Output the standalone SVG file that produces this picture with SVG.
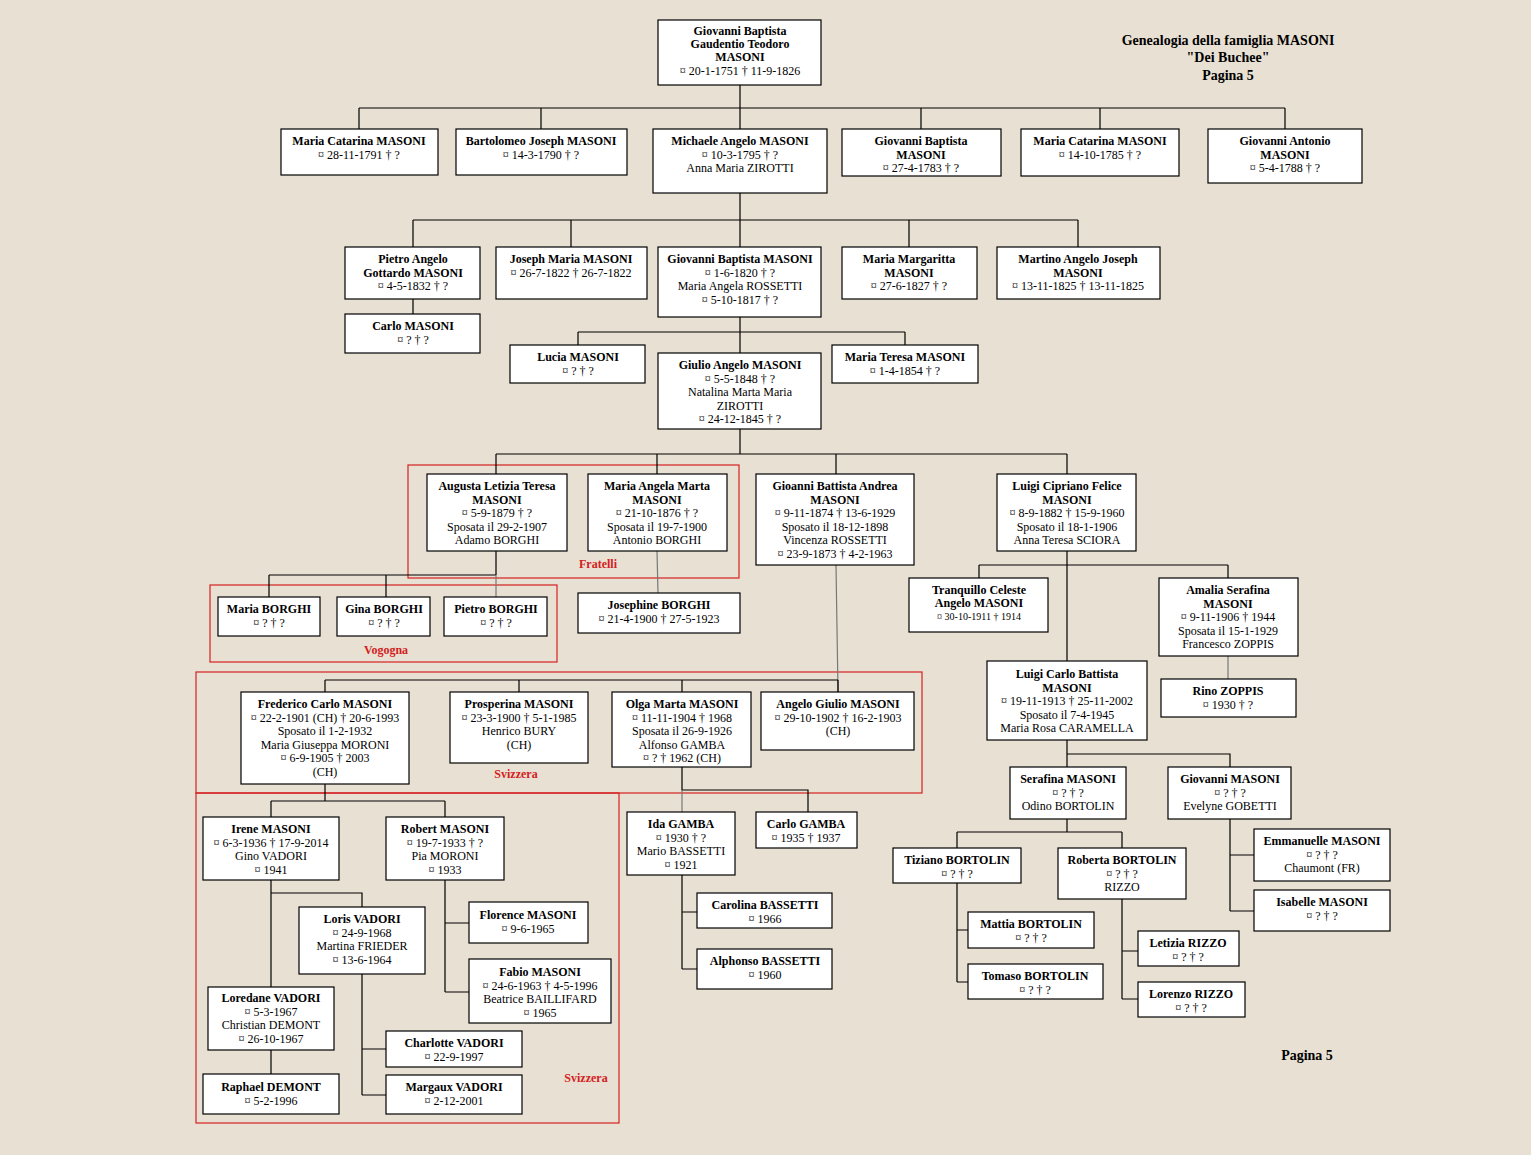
<svg xmlns="http://www.w3.org/2000/svg" width="1531" height="1155" viewBox="0 0 1531 1155">
<style>
rect.n{fill:#fff;stroke:#000;stroke-width:1.2}
text{font-family:"Liberation Serif","Times New Roman",serif;font-size:12px;text-anchor:middle;fill:#000}
.b{font-weight:bold}
.s{font-size:10px}
.c path{fill:none;stroke:#000;stroke-width:1.2}
.c path.g{stroke:#777}
.r{fill:none;stroke:#d42020;stroke-width:1.2}
.rl{fill:#d42020;font-weight:bold}
.t{font-size:14px;font-weight:bold}
</style>
<rect width="1531" height="1155" fill="#e8e0d3"/>
<g id="title">
<text class="t" x="1228" y="45">Genealogia della famiglia MASONI</text>
<text class="t" x="1228" y="62">"Dei Buchee"</text>
<text class="t" x="1228" y="80">Pagina 5</text>
<text class="t" x="1307" y="1060">Pagina 5</text>
</g>
<g id="groups">
<rect class="r" x="408" y="465" width="331" height="113"/><text class="rl" x="598" y="568">Fratelli</text>
<rect class="r" x="210" y="585" width="347" height="77"/><text class="rl" x="386" y="654">Vogogna</text>
<rect class="r" x="196" y="672" width="726" height="121"/><text class="rl" x="516" y="778">Svizzera</text>
<rect class="r" x="196" y="793" width="423" height="330"/><text class="rl" x="586" y="1082">Svizzera</text>
</g>
<g class="c" id="connectors">
<path d="M740 85V108M359 108H1285M359 108V129M541 108V129M740 108V129M921 108V129M1100 108V129M1285 108V129"/>
<path d="M740 193V220M413 220H1078M413 220V247M571 220V247M740 220V247M909 220V247M1078 220V247M413 299V314"/>
<path d="M740 317V353M578 332H905M578 332V345M905 332V345"/>
<path d="M740 429V454M496 454H1067M496 454V474M657 454V474M836 454V474M1067 454V474"/>
<path d="M496 551V575M269 575H496M269 575V597M386 575V597"/>
<path class="g" d="M496 575V597M657 551L658 593M836 565L838 692"/>
<path d="M1067 551V661M979 565H1228M979 565V578M1228 565V578"/>
<path class="g" d="M1228 656V679"/>
<path d="M325 680H838M325 680V692M519 680V692M682 680V692M838 680V692"/>
<path d="M325 784V801M271 801H445M271 801V817M445 801V817"/>
<path d="M271 880V987M271 893H362V907M271 1050V1074M362 974V1095M362 1049H386M362 1095H386"/>
<path d="M445 880V992M445 923H469M445 992H469"/>
<path d="M682 767V790H808V812"/>
<path class="g" d="M682 790V812"/>
<path d="M682 875V969M682 912H697M682 969H697"/>
<path d="M1067 740V767M1067 754H1230V767M1067 819V832M957 832H1122M957 832V848M1122 832V848"/>
<path d="M957 883V982M957 930H968M957 982H968M1122 899V999M1122 951H1138M1122 999H1138"/>
<path d="M1230 819V911M1230 855H1254M1230 911H1254"/>
</g>
<g id="n1"><rect class="n" x="658" y="20" width="163" height="65"/><text x="740" y="35"><tspan class="b" x="740">Giovanni Baptista</tspan><tspan class="b" x="740" dy="13">Gaudentio Teodoro</tspan><tspan class="b" x="740" dy="13">MASONI</tspan><tspan x="740" dy="14">¤  20-1-1751  † 11-9-1826</tspan></text></g>
<g id="n2"><rect class="n" x="281" y="129" width="157" height="46"/><text x="359" y="145"><tspan class="b" x="359">Maria Catarina MASONI</tspan><tspan x="359" dy="13.5">¤  28-11-1791  † ?</tspan></text></g>
<g id="n3"><rect class="n" x="456" y="129" width="171" height="46"/><text x="541" y="145"><tspan class="b" x="541">Bartolomeo Joseph MASONI</tspan><tspan x="541" dy="13.5">¤   14-3-1790  † ?</tspan></text></g>
<g id="n4"><rect class="n" x="653" y="129" width="174" height="64"/><text x="740" y="145"><tspan class="b" x="740">Michaele Angelo MASONI</tspan><tspan x="740" dy="13.5">¤ 10-3-1795  † ?</tspan><tspan x="740" dy="13.5">Anna Maria ZIROTTI</tspan></text></g>
<g id="n5"><rect class="n" x="842" y="129" width="159" height="47"/><text x="921" y="145"><tspan class="b" x="921">Giovanni Baptista</tspan><tspan class="b" x="921" dy="13.5">MASONI</tspan><tspan x="921" dy="13.5">¤   27-4-1783   † ?</tspan></text></g>
<g id="n6"><rect class="n" x="1021" y="129" width="158" height="47"/><text x="1100" y="145"><tspan class="b" x="1100">Maria Catarina MASONI</tspan><tspan x="1100" dy="13.5">¤ 14-10-1785 † ?</tspan></text></g>
<g id="n7"><rect class="n" x="1208" y="129" width="154" height="54"/><text x="1285" y="145"><tspan class="b" x="1285">Giovanni Antonio</tspan><tspan class="b" x="1285" dy="13.5">MASONI</tspan><tspan x="1285" dy="13.5">¤  5-4-1788  † ?</tspan></text></g>
<g id="n8"><rect class="n" x="345" y="247" width="135" height="52"/><text x="413" y="263"><tspan class="b" x="413">Pietro Angelo</tspan><tspan class="b" x="413" dy="13.5">Gottardo MASONI</tspan><tspan x="413" dy="13.5">¤ 4-5-1832  † ?</tspan></text></g>
<g id="n9"><rect class="n" x="496" y="247" width="151" height="52"/><text x="571" y="263"><tspan class="b" x="571">Joseph Maria MASONI</tspan><tspan x="571" dy="13.5">¤ 26-7-1822  † 26-7-1822</tspan></text></g>
<g id="n10"><rect class="n" x="658" y="247" width="163" height="70"/><text x="740" y="263"><tspan class="b" x="740">Giovanni Baptista MASONI</tspan><tspan x="740" dy="13.5">¤ 1-6-1820  † ?</tspan><tspan x="740" dy="13.5">Maria Angela ROSSETTI</tspan><tspan x="740" dy="13.5">¤ 5-10-1817  † ?</tspan></text></g>
<g id="n11"><rect class="n" x="842" y="247" width="135" height="52"/><text x="909" y="263"><tspan class="b" x="909">Maria Margaritta</tspan><tspan class="b" x="909" dy="13.5">MASONI</tspan><tspan x="909" dy="13.5">¤ 27-6-1827  † ?</tspan></text></g>
<g id="n12"><rect class="n" x="997" y="247" width="163" height="52"/><text x="1078" y="263"><tspan class="b" x="1078">Martino Angelo Joseph</tspan><tspan class="b" x="1078" dy="13.5">MASONI</tspan><tspan x="1078" dy="13.5">¤ 13-11-1825  † 13-11-1825</tspan></text></g>
<g id="n13"><rect class="n" x="345" y="314" width="135" height="39"/><text x="413" y="330"><tspan class="b" x="413">Carlo MASONI</tspan><tspan x="413" dy="13.5">¤ ? † ?</tspan></text></g>
<g id="n14"><rect class="n" x="510" y="345" width="135" height="38"/><text x="578" y="361"><tspan class="b" x="578">Lucia  MASONI</tspan><tspan x="578" dy="13.5">¤ ? † ?</tspan></text></g>
<g id="n15"><rect class="n" x="658" y="353" width="163" height="76"/><text x="740" y="369"><tspan class="b" x="740">Giulio Angelo MASONI</tspan><tspan x="740" dy="13.5">¤ 5-5-1848  † ?</tspan><tspan x="740" dy="13.5">Natalina Marta Maria</tspan><tspan x="740" dy="13.5">ZIROTTI</tspan><tspan x="740" dy="13.5">¤ 24-12-1845  † ?</tspan></text></g>
<g id="n16"><rect class="n" x="832" y="345" width="146" height="38"/><text x="905" y="361"><tspan class="b" x="905">Maria Teresa   MASONI</tspan><tspan x="905" dy="13.5">¤ 1-4-1854 † ?</tspan></text></g>
<g id="n17"><rect class="n" x="427" y="474" width="140" height="77"/><text x="497" y="490"><tspan class="b" x="497">Augusta Letizia Teresa</tspan><tspan class="b" x="497" dy="13.5">MASONI</tspan><tspan x="497" dy="13.5">¤ 5-9-1879  † ?</tspan><tspan x="497" dy="13.5">Sposata il 29-2-1907</tspan><tspan x="497" dy="13.5">Adamo BORGHI</tspan></text></g>
<g id="n18"><rect class="n" x="588" y="474" width="139" height="77"/><text x="657" y="490"><tspan class="b" x="657">Maria Angela Marta</tspan><tspan class="b" x="657" dy="13.5">MASONI</tspan><tspan x="657" dy="13.5">¤ 21-10-1876  † ?</tspan><tspan x="657" dy="13.5">Sposata il 19-7-1900</tspan><tspan x="657" dy="13.5">Antonio  BORGHI</tspan></text></g>
<g id="n19"><rect class="n" x="756" y="474" width="158" height="91"/><text x="835" y="490"><tspan class="b" x="835">Gioanni Battista Andrea</tspan><tspan class="b" x="835" dy="13.5">MASONI</tspan><tspan x="835" dy="13.5">¤ 9-11-1874  † 13-6-1929</tspan><tspan x="835" dy="13.5">Sposato il 18-12-1898</tspan><tspan x="835" dy="13.5">Vincenza ROSSETTI</tspan><tspan x="835" dy="13.5">¤ 23-9-1873  † 4-2-1963</tspan></text></g>
<g id="n20"><rect class="n" x="997" y="474" width="139" height="77"/><text x="1067" y="490"><tspan class="b" x="1067">Luigi Cipriano Felice</tspan><tspan class="b" x="1067" dy="13.5">MASONI</tspan><tspan x="1067" dy="13.5">¤ 8-9-1882  † 15-9-1960</tspan><tspan x="1067" dy="13.5">Sposato il 18-1-1906</tspan><tspan x="1067" dy="13.5">Anna Teresa SCIORA</tspan></text></g>
<g id="n21"><rect class="n" x="218" y="597" width="102" height="39"/><text x="269" y="613"><tspan class="b" x="269">Maria BORGHI</tspan><tspan x="269" dy="13.5">¤ ? † ?</tspan></text></g>
<g id="n22"><rect class="n" x="337" y="597" width="93" height="39"/><text x="384" y="613"><tspan class="b" x="384">Gina BORGHI</tspan><tspan x="384" dy="13.5">¤ ? † ?</tspan></text></g>
<g id="n23"><rect class="n" x="444" y="597" width="103" height="39"/><text x="496" y="613"><tspan class="b" x="496">Pietro BORGHI</tspan><tspan x="496" dy="13.5">¤ ? † ?</tspan></text></g>
<g id="n24"><rect class="n" x="578" y="593" width="162" height="40"/><text x="659" y="609"><tspan class="b" x="659">Josephine BORGHI</tspan><tspan x="659" dy="13.5">¤ 21-4-1900 † 27-5-1923</tspan></text></g>
<g id="n25"><rect class="n" x="909" y="578" width="139" height="54"/><text x="979" y="594"><tspan class="b" x="979">Tranquillo Celeste</tspan><tspan class="b" x="979" dy="13">Angelo MASONI</tspan><tspan class="s" x="979" dy="13">¤ 30-10-1911  † 1914</tspan></text></g>
<g id="n26"><rect class="n" x="1159" y="578" width="139" height="78"/><text x="1228" y="594"><tspan class="b" x="1228">Amalia Serafina</tspan><tspan class="b" x="1228" dy="13.5">MASONI</tspan><tspan x="1228" dy="13.5">¤ 9-11-1906  † 1944</tspan><tspan x="1228" dy="13.5">Sposata il 15-1-1929</tspan><tspan x="1228" dy="13.5">Francesco ZOPPIS</tspan></text></g>
<g id="n27"><rect class="n" x="1161" y="679" width="135" height="38"/><text x="1228" y="695"><tspan class="b" x="1228">Rino ZOPPIS</tspan><tspan x="1228" dy="13.5">¤ 1930 † ?</tspan></text></g>
<g id="n28"><rect class="n" x="987" y="661" width="160" height="79"/><text x="1067" y="678"><tspan class="b" x="1067">Luigi Carlo Battista</tspan><tspan class="b" x="1067" dy="13.5">MASONI</tspan><tspan x="1067" dy="13.5">¤ 19-11-1913  † 25-11-2002</tspan><tspan x="1067" dy="13.5">Sposato il 7-4-1945</tspan><tspan x="1067" dy="13.5">Maria Rosa CARAMELLA</tspan></text></g>
<g id="n29"><rect class="n" x="241" y="692" width="168" height="92"/><text x="325" y="708"><tspan class="b" x="325">Frederico Carlo MASONI</tspan><tspan x="325" dy="13.5">¤ 22-2-1901 (CH)  † 20-6-1993</tspan><tspan x="325" dy="13.5">Sposato il 1-2-1932</tspan><tspan x="325" dy="13.5">Maria Giuseppa MORONI</tspan><tspan x="325" dy="13.5">¤ 6-9-1905 † 2003</tspan><tspan x="325" dy="13.5">(CH)</tspan></text></g>
<g id="n30"><rect class="n" x="450" y="692" width="138" height="71"/><text x="519" y="708"><tspan class="b" x="519">Prosperina MASONI</tspan><tspan x="519" dy="13.5">¤ 23-3-1900  † 5-1-1985</tspan><tspan x="519" dy="13.5">Henrico BURY</tspan><tspan x="519" dy="13.5">(CH)</tspan></text></g>
<g id="n31"><rect class="n" x="612" y="692" width="139" height="75"/><text x="682" y="708"><tspan class="b" x="682">Olga Marta MASONI</tspan><tspan x="682" dy="13.5">¤ 11-11-1904  † 1968</tspan><tspan x="682" dy="13.5">Sposata il 26-9-1926</tspan><tspan x="682" dy="13.5">Alfonso GAMBA</tspan><tspan x="682" dy="13.5">¤ ? † 1962 (CH)</tspan></text></g>
<g id="n32"><rect class="n" x="761" y="692" width="153" height="58"/><text x="838" y="708"><tspan class="b" x="838">Angelo Giulio MASONI</tspan><tspan x="838" dy="13.5">¤ 29-10-1902  † 16-2-1903</tspan><tspan x="838" dy="13.5">(CH)</tspan></text></g>
<g id="n33"><rect class="n" x="203" y="817" width="136" height="63"/><text x="271" y="833"><tspan class="b" x="271">Irene MASONI</tspan><tspan x="271" dy="13.5">¤ 6-3-1936 † 17-9-2014</tspan><tspan x="271" dy="13.5">Gino VADORI</tspan><tspan x="271" dy="13.5">¤ 1941</tspan></text></g>
<g id="n34"><rect class="n" x="386" y="817" width="118" height="63"/><text x="445" y="833"><tspan class="b" x="445">Robert MASONI</tspan><tspan x="445" dy="13.5">¤ 19-7-1933 † ?</tspan><tspan x="445" dy="13.5">Pia MORONI</tspan><tspan x="445" dy="13.5">¤ 1933</tspan></text></g>
<g id="n35"><rect class="n" x="299" y="907" width="126" height="67"/><text x="362" y="923"><tspan class="b" x="362">Loris VADORI</tspan><tspan x="362" dy="13.5">¤ 24-9-1968</tspan><tspan x="362" dy="13.5">Martina FRIEDER</tspan><tspan x="362" dy="13.5">¤ 13-6-1964</tspan></text></g>
<g id="n36"><rect class="n" x="208" y="987" width="126" height="63"/><text x="271" y="1002"><tspan class="b" x="271">Loredane VADORI</tspan><tspan x="271" dy="13.5">¤ 5-3-1967</tspan><tspan x="271" dy="13.5">Christian DEMONT</tspan><tspan x="271" dy="13.5">¤ 26-10-1967</tspan></text></g>
<g id="n37"><rect class="n" x="203" y="1074" width="136" height="40"/><text x="271" y="1091"><tspan class="b" x="271">Raphael DEMONT</tspan><tspan x="271" dy="13.5">¤ 5-2-1996</tspan></text></g>
<g id="n38"><rect class="n" x="386" y="1031" width="136" height="36"/><text x="454" y="1047"><tspan class="b" x="454">Charlotte VADORI</tspan><tspan x="454" dy="13.5">¤ 22-9-1997</tspan></text></g>
<g id="n39"><rect class="n" x="386" y="1075" width="136" height="39"/><text x="454" y="1091"><tspan class="b" x="454">Margaux VADORI</tspan><tspan x="454" dy="13.5">¤ 2-12-2001</tspan></text></g>
<g id="n40"><rect class="n" x="469" y="902" width="119" height="41"/><text x="528" y="919"><tspan class="b" x="528">Florence MASONI</tspan><tspan x="528" dy="13.5">¤ 9-6-1965</tspan></text></g>
<g id="n41"><rect class="n" x="469" y="959" width="142" height="64"/><text x="540" y="976"><tspan class="b" x="540">Fabio MASONI</tspan><tspan x="540" dy="13.5">¤ 24-6-1963 † 4-5-1996</tspan><tspan x="540" dy="13.5">Beatrice BAILLIFARD</tspan><tspan x="540" dy="13.5">¤ 1965</tspan></text></g>
<g id="n42"><rect class="n" x="627" y="812" width="108" height="63"/><text x="681" y="828"><tspan class="b" x="681">Ida GAMBA</tspan><tspan x="681" dy="13.5">¤ 1930 † ?</tspan><tspan x="681" dy="13.5">Mario BASSETTI</tspan><tspan x="681" dy="13.5">¤ 1921</tspan></text></g>
<g id="n43"><rect class="n" x="756" y="812" width="101" height="36"/><text x="806" y="828"><tspan class="b" x="806">Carlo GAMBA</tspan><tspan x="806" dy="13.5">¤ 1935 † 1937</tspan></text></g>
<g id="n44"><rect class="n" x="697" y="893" width="135" height="35"/><text x="765" y="909"><tspan class="b" x="765">Carolina BASSETTI</tspan><tspan x="765" dy="13.5">¤ 1966</tspan></text></g>
<g id="n45"><rect class="n" x="697" y="949" width="135" height="40"/><text x="765" y="965"><tspan class="b" x="765">Alphonso BASSETTI</tspan><tspan x="765" dy="13.5">¤ 1960</tspan></text></g>
<g id="n46"><rect class="n" x="1010" y="767" width="116" height="52"/><text x="1068" y="783"><tspan class="b" x="1068">Serafina MASONI</tspan><tspan x="1068" dy="13.5">¤ ? † ?</tspan><tspan x="1068" dy="13.5">Odino BORTOLIN</tspan></text></g>
<g id="n47"><rect class="n" x="1168" y="767" width="123" height="52"/><text x="1230" y="783"><tspan class="b" x="1230">Giovanni  MASONI</tspan><tspan x="1230" dy="13.5">¤ ? † ?</tspan><tspan x="1230" dy="13.5">Evelyne GOBETTI</tspan></text></g>
<g id="n48"><rect class="n" x="893" y="848" width="128" height="35"/><text x="957" y="864"><tspan class="b" x="957">Tiziano BORTOLIN</tspan><tspan x="957" dy="13.5">¤ ? † ?</tspan></text></g>
<g id="n49"><rect class="n" x="1058" y="848" width="128" height="51"/><text x="1122" y="864"><tspan class="b" x="1122">Roberta BORTOLIN</tspan><tspan x="1122" dy="13.5">¤ ? † ?</tspan><tspan x="1122" dy="13.5">RIZZO</tspan></text></g>
<g id="n50"><rect class="n" x="968" y="912" width="126" height="36"/><text x="1031" y="928"><tspan class="b" x="1031">Mattia BORTOLIN</tspan><tspan x="1031" dy="13.5">¤ ? † ?</tspan></text></g>
<g id="n51"><rect class="n" x="968" y="964" width="135" height="35"/><text x="1035" y="980"><tspan class="b" x="1035">Tomaso BORTOLIN</tspan><tspan x="1035" dy="13.5">¤ ? † ?</tspan></text></g>
<g id="n52"><rect class="n" x="1138" y="931" width="101" height="35"/><text x="1188" y="947"><tspan class="b" x="1188">Letizia RIZZO</tspan><tspan x="1188" dy="13.5">¤ ? † ?</tspan></text></g>
<g id="n53"><rect class="n" x="1138" y="982" width="107" height="35"/><text x="1191" y="998"><tspan class="b" x="1191">Lorenzo RIZZO</tspan><tspan x="1191" dy="13.5">¤ ? † ?</tspan></text></g>
<g id="n54"><rect class="n" x="1254" y="829" width="136" height="52"/><text x="1322" y="845"><tspan class="b" x="1322">Emmanuelle  MASONI</tspan><tspan x="1322" dy="13.5">¤ ? † ?</tspan><tspan x="1322" dy="13.5">Chaumont (FR)</tspan></text></g>
<g id="n55"><rect class="n" x="1254" y="890" width="136" height="41"/><text x="1322" y="906"><tspan class="b" x="1322">Isabelle MASONI</tspan><tspan x="1322" dy="13.5">¤ ? † ?</tspan></text></g>
</svg>
